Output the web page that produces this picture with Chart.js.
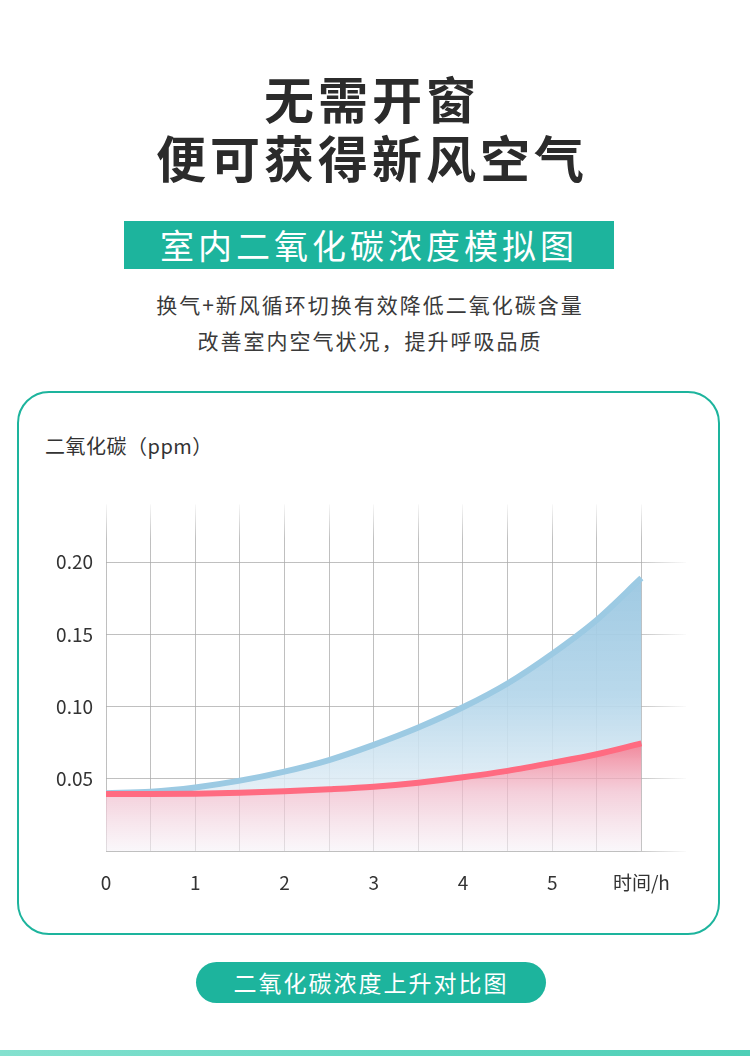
<!doctype html>
<html lang="zh">
<head>
<meta charset="utf-8">
<script src="https://cdn.jsdelivr.net/npm/chart.js@4.4.1/dist/chart.umd.min.js"></script>
<title>室内二氧化碳浓度模拟图</title>
<style>
  html, body { margin: 0; padding: 0; background: #fff; }
  body { width: 750px; height: 1056px; position: relative; overflow: hidden;
         font-family: "Noto Sans CJK SC", "Noto Sans", sans-serif; color: #2b2b2b; }
  .title { position: absolute; left: 0; width: 744px; text-align: center;
           font-size: 50px; font-weight: 700; letter-spacing: 4px; line-height: 1; }
  .banner { position: absolute; left: 124px; top: 221px; width: 490px; height: 48px;
            background: #1db49d; color: #fff; text-align: center;
            font-size: 34px; line-height: 48px; letter-spacing: 4px; }
  .sub { position: absolute; left: 0; width: 740px; text-align: center;
         font-size: 21px; color: #3a3a3a; letter-spacing: 2px; line-height: 1; }
  .card { position: absolute; left: 17px; top: 391px; width: 699px; height: 540px;
          border: 2px solid #1db49d; border-radius: 32px; }
  .ylab { position: absolute; left: 45px; top: 431px; font-size: 20px; color: #333; letter-spacing: 0.5px; }
  .pill { position: absolute; left: 196px; top: 962px; width: 350px; height: 41px;
          border-radius: 21px; background: #1db49d; color: #fff; text-align: center;
          font-size: 23px; line-height: 41px; letter-spacing: 2px; }
  .strip { position: absolute; left: 0; top: 1050px; width: 750px; height: 6px;
           background: linear-gradient(to right, #84e1cf, #63d7c2 50%, #4dcfb6); }
  #wrap { position: absolute; left: 0; top: 480px; width: 750px; height: 430px; }
</style>
</head>
<body>
  <div class="title" style="top:72px">无需开窗</div>
  <div class="title" style="top:131px">便可获得新风空气</div>
  <div class="banner">室内二氧化碳浓度模拟图</div>
  <div class="sub" style="top:294px">换气+新风循环切换有效降低二氧化碳含量</div>
  <div class="sub" style="top:330px">改善室内空气状况，提升呼吸品质</div>
  <div class="card"></div>
  <div class="ylab">二氧化碳（ppm）</div>
  <div id="wrap"><canvas id="co2Chart"></canvas></div>
  <div class="pill">二氧化碳浓度上升对比图</div>
  <div class="strip"></div>

<script>
  // time in hours
  let hours = [0, 0.5, 1, 1.5, 2, 2.5, 3, 3.5, 4, 4.5, 5, 5.5, 6];
  // CO2 without fresh air (blue) and with fresh air cycle (red)
  let closedRoom = [0.040, 0.041, 0.044, 0.0487, 0.055, 0.063, 0.0735, 0.0855, 0.0995, 0.116, 0.1365, 0.160, 0.189];
  let freshAir = [0.0395, 0.0395, 0.0397, 0.0403, 0.0413, 0.0427, 0.0445, 0.0473, 0.051, 0.0555, 0.061, 0.067, 0.0745];
  // axis labels
  let yTicks = [0.05, 0.10, 0.15, 0.20];
  let xTicks = [0, 1, 2, 3, 4, 5];
  let xUnit = "时间/h";

  const font = '"Noto Sans CJK SC", "Noto Sans", sans-serif';

  const toPoints = (ys) => hours.map((h, i) => ({ x: h, y: ys[i] }));

  // gradients need the chart area, so build them lazily
  function blueFill(c) {
    const { ctx, chartArea, scales } = c.chart;
    if (!chartArea) return 'rgba(160,202,227,0.85)';
    const g = ctx.createLinearGradient(0, scales.y.getPixelForValue(0.19), 0, scales.y.getPixelForValue(0.04));
    g.addColorStop(0, 'rgba(155,199,225,0.97)');
    g.addColorStop(0.55, 'rgba(180,214,234,0.92)');
    g.addColorStop(1, 'rgba(226,238,246,0.85)');
    return g;
  }
  function redFill(c) {
    const { ctx, chartArea, scales } = c.chart;
    if (!chartArea) return 'rgba(240,130,150,0.6)';
    const g = ctx.createLinearGradient(0, scales.y.getPixelForValue(0.075), 0, chartArea.bottom);
    g.addColorStop(0, 'rgba(240,124,145,0.92)');
    g.addColorStop(0.45, 'rgba(240,188,204,0.72)');
    g.addColorStop(1, 'rgba(246,242,247,0.6)');
    return g;
  }
  function vGrid(c) {
    const { ctx, chartArea } = c.chart;
    if (!chartArea) return '#c4c4c4';
    const g = ctx.createLinearGradient(0, chartArea.top - 4, 0, chartArea.top + 34);
    g.addColorStop(0, 'rgba(170,170,170,0)');
    g.addColorStop(1, 'rgba(170,170,170,0.75)');
    return g;
  }
  function hGrid(c) {
    const { ctx, chartArea } = c.chart;
    if (!chartArea) return '#c4c4c4';
    const g = ctx.createLinearGradient(chartArea.right - 50, 0, chartArea.right + 4, 0);
    g.addColorStop(0, 'rgba(170,170,170,0.75)');
    g.addColorStop(1, 'rgba(170,170,170,0)');
    return g;
  }

  const near = (v, list) => list.some(t => Math.abs(t - v) < 1e-6);

  new Chart(document.getElementById('co2Chart'), {
    type: 'line',
    data: {
      datasets: [
        {
          label: '关窗',
          data: toPoints(closedRoom),
          borderColor: '#9ccae3',
          borderWidth: 6,
          borderCapStyle: 'butt',
          backgroundColor: blueFill,
          fill: '+1',
          pointRadius: 0,
          cubicInterpolationMode: 'monotone',
          order: 1
        },
        {
          label: '新风',
          data: toPoints(freshAir),
          borderColor: '#ff6b81',
          borderWidth: 6,
          borderCapStyle: 'butt',
          backgroundColor: redFill,
          fill: 'origin',
          pointRadius: 0,
          cubicInterpolationMode: 'monotone',
          order: 0
        }
      ]
    },
    options: {
      responsive: true,
      maintainAspectRatio: false,
      animation: false,
      layout: { padding: { left: 0, right: 64, top: 24, bottom: 0 } },
      plugins: { legend: { display: false }, tooltip: { enabled: false } },
      scales: {
        x: {
          type: 'linear',
          min: 0,
          max: 6.5,
          border: { display: false },
          grid: { color: vGrid, lineWidth: 1, drawTicks: false },
          afterBuildTicks: (s) => { s.ticks = s.ticks.filter(t => t.value <= 6 + 1e-6); },
          afterFit: (s) => { s.height = 59; },
          ticks: {
            stepSize: 0.5,
            autoSkip: false,
            maxRotation: 0,
            padding: 20,
            color: '#333',
            font: { family: font, size: 19 },
            callback: (v) => near(v, xTicks) ? String(v) : (Math.abs(v - 6) < 1e-6 ? xUnit : '')
          }
        },
        y: {
          min: 0,
          max: 0.24,
          border: { display: false },
          grid: { color: hGrid, lineWidth: 1, drawTicks: false },
          afterBuildTicks: (s) => { s.ticks = s.ticks.filter(t => t.value === 0 || near(t.value, yTicks)); },
          afterFit: (s) => { s.width = 106; },
          ticks: {
            stepSize: 0.05,
            padding: 13,
            color: '#333',
            font: { family: font, size: 19 },
            callback: (v) => near(v, yTicks) ? v.toFixed(2) : ''
          }
        }
      }
    }
  });
</script>
</body>
</html>
